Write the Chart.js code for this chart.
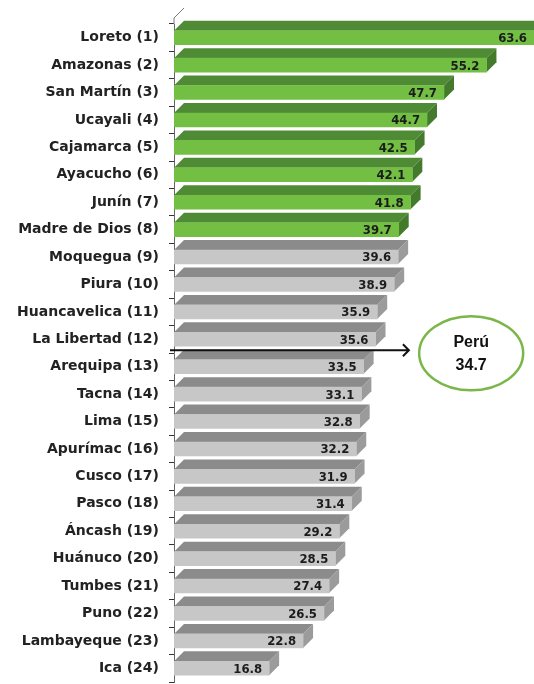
<!DOCTYPE html>
<html>
<head>
<meta charset="utf-8">
<script src="https://cdn.jsdelivr.net/npm/chart.js@4"></script>
<style>
  html, body { margin: 0; padding: 0; background: #fff; }
  #wrap { width: 534px; height: 684px; position: relative; }
</style>
</head>
<body>
<div id="wrap"><canvas id="chart"></canvas></div>
<script>
// regiones y valores (%)
const regions = [
  "Loreto (1)", "Amazonas (2)", "San Martín (3)", "Ucayali (4)", "Cajamarca (5)",
  "Ayacucho (6)", "Junín (7)", "Madre de Dios (8)", "Moquegua (9)", "Piura (10)",
  "Huancavelica (11)", "La Libertad (12)", "Arequipa (13)", "Tacna (14)", "Lima (15)",
  "Apurímac (16)", "Cusco (17)", "Pasco (18)", "Áncash (19)", "Huánuco (20)",
  "Tumbes (21)", "Puno (22)", "Lambayeque (23)", "Ica (24)"
];
const values = [
  63.6, 55.2, 47.7, 44.7, 42.5, 42.1, 41.8, 39.7, 39.6, 38.9,
  35.9, 35.6, 33.5, 33.1, 32.8, 32.2, 31.9, 31.4, 29.2, 28.5,
  27.4, 26.5, 22.8, 16.8
];
const greenCount = 8; // las 8 primeras van en verde
const peruLabel = "Perú";
const peruValue = 34.7;

const DX = 10, DY = 10; // profundidad 3D

const isGreen = i => i < greenCount;
const frontColors = values.map((v, i) => isGreen(i) ? "#72bf44" : "#c7c7c7");
const topColors = values.map((v, i) => isGreen(i) ? "#4e8b34" : "#8b8b8b");
const sideColors = values.map((v, i) => isGreen(i) ? "#437a2c" : "#9b9b9b");

// dibuja la cara superior y lateral de cada barra
const bar3d = {
  id: "bar3d",
  beforeDatasetsDraw(chart) {
    const ctx = chart.ctx;
    const meta = chart.getDatasetMeta(0);
    ctx.save();
    meta.data.forEach((bar, i) => {
      const top = bar.y - bar.height / 2;
      const bottom = bar.y + bar.height / 2;
      const x0 = bar.base, x1 = bar.x;
      ctx.fillStyle = topColors[i];
      ctx.beginPath();
      ctx.moveTo(x0, top);
      ctx.lineTo(x0 + DX, top - DY);
      ctx.lineTo(x1 + DX, top - DY);
      ctx.lineTo(x1, top);
      ctx.closePath();
      ctx.fill();
      ctx.fillStyle = sideColors[i];
      ctx.beginPath();
      ctx.moveTo(x1, top);
      ctx.lineTo(x1 + DX, top - DY);
      ctx.lineTo(x1 + DX, bottom - DY);
      ctx.lineTo(x1, bottom);
      ctx.closePath();
      ctx.fill();
    });
    // borde superior del eje
    const area = chart.chartArea;
    ctx.strokeStyle = "#777";
    ctx.lineWidth = 1;
    ctx.beginPath();
    ctx.moveTo(area.left, area.top);
    ctx.lineTo(area.left, area.top - 6);
    ctx.lineTo(area.left + DX, area.top - 6 - DY);
    ctx.stroke();
    ctx.restore();
  },
  afterDatasetsDraw(chart) {
    const ctx = chart.ctx;
    const meta = chart.getDatasetMeta(0);
    const xs = chart.scales.x, ys = chart.scales.y;
    ctx.save();
    // etiquetas de valor
    ctx.font = "bold 13px 'DejaVu Sans Condensed', sans-serif";
    ctx.fillStyle = "#1c1c1c";
    ctx.textAlign = "right";
    ctx.textBaseline = "middle";
    meta.data.forEach((bar, i) => {
      ctx.fillText(values[i].toFixed(1), bar.x - 7, bar.y + 1);
    });
    // flecha hacia el promedio nacional
    const step = ys.getPixelForValue(1) - ys.getPixelForValue(0);
    const ay = ys.getPixelForValue(11) + step * 0.4;
    const ax0 = xs.left - 4, ax1 = xs.getPixelForValue(41.5);
    ctx.strokeStyle = "#111";
    ctx.lineWidth = 2;
    ctx.beginPath();
    ctx.moveTo(ax0, ay);
    ctx.lineTo(ax1, ay);
    ctx.moveTo(ax1 - 6, ay - 6);
    ctx.lineTo(ax1, ay);
    ctx.lineTo(ax1 - 6, ay + 6);
    ctx.stroke();
    // elipse Perú
    const cx = xs.getPixelForValue(52.5), cy = ay + 3;
    ctx.beginPath();
    ctx.ellipse(cx, cy, 52, 37, 0, 0, Math.PI * 2);
    ctx.fillStyle = "#fff";
    ctx.fill();
    ctx.strokeStyle = "#7ab648";
    ctx.lineWidth = 2.5;
    ctx.stroke();
    ctx.fillStyle = "#111";
    ctx.textAlign = "center";
    ctx.font = "bold 16px 'Liberation Sans', Arial, sans-serif";
    ctx.fillText(peruLabel, cx, cy - 11);
    ctx.fillText(peruValue.toFixed(1), cx, cy + 12);
    ctx.restore();
  }
};

const chart = new Chart(document.getElementById("chart"), {
  type: "bar",
  data: {
    labels: regions,
    datasets: [{
      data: values,
      backgroundColor: frontColors,
      borderWidth: 0,
      barThickness: 14
    }]
  },
  options: {
    indexAxis: "y",
    responsive: true,
    maintainAspectRatio: false,
    animation: false,
    layout: { padding: { top: 24, bottom: 2, right: 0, left: 0 } },
    scales: {
      x: { display: false, min: 0, max: 63.6 },
      y: {
        afterFit: scale => {
          scale.width = 174;
          scale.paddingTop = 0;
          scale.paddingBottom = 0;
        },
        border: { display: true, color: "#666", width: 1 },
        grid: { display: true, drawOnChartArea: false, offset: true, tickLength: 5, color: "#333" },
        ticks: {
          color: "#222",
          padding: 10,
          font: { family: "'DejaVu Sans', sans-serif", weight: "bold", size: 14 }
        }
      }
    },
    plugins: {
      legend: { display: false },
      tooltip: { enabled: false }
    }
  },
  plugins: [bar3d]
});
</script>
</body>
</html>
